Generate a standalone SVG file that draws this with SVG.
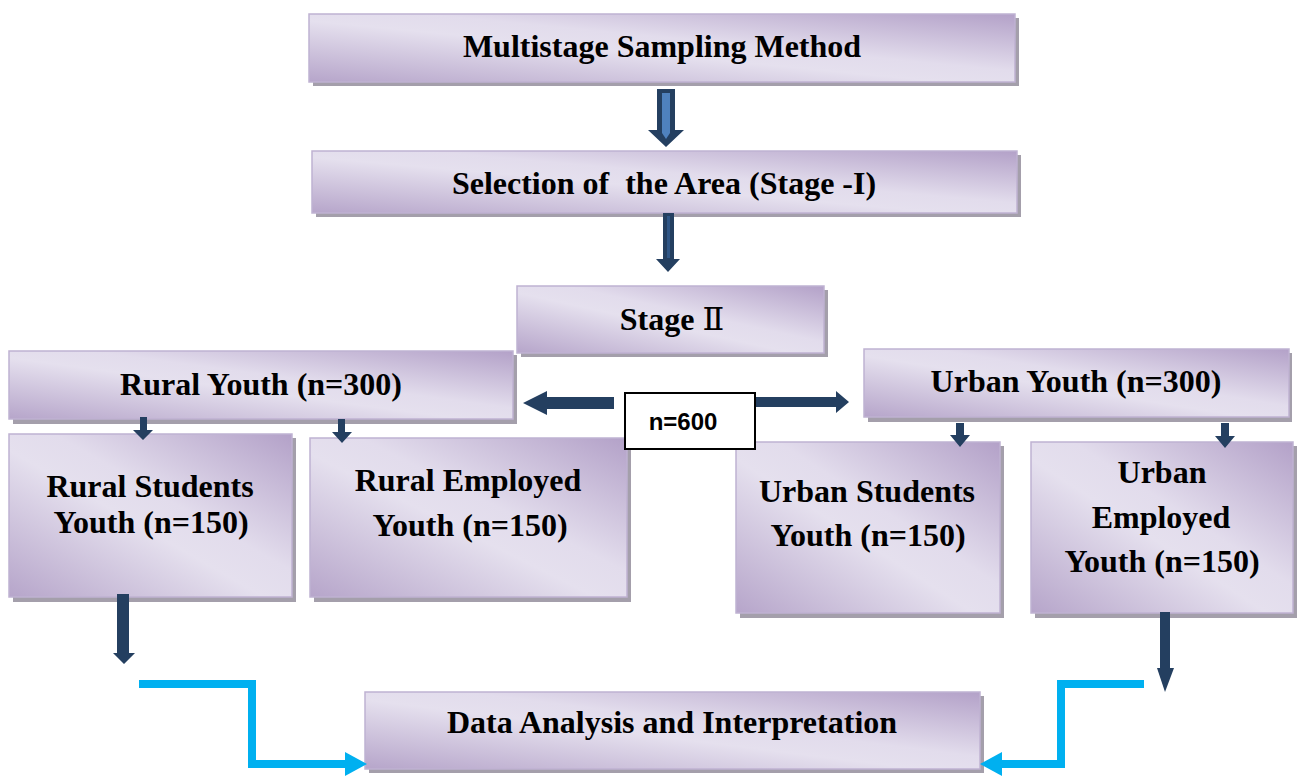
<svg xmlns="http://www.w3.org/2000/svg" width="1299" height="776" viewBox="0 0 1299 776">
<style>
.sh{fill:#a49fab}
.bx{fill:url(#g);stroke:#bfb2d2;stroke-width:1.5}
.t{font-family:"Liberation Serif","Times New Roman",serif;font-weight:bold;font-size:32px;fill:#000;text-anchor:middle;white-space:pre}
.n{font-family:"Liberation Sans",Arial,sans-serif;font-weight:bold;font-size:24px;fill:#000;text-anchor:middle}
.da{fill:#243f60}
.lb{fill:none;stroke:#00b0f0;stroke-width:8;marker-end:url(#ah)}
</style>
<defs>
<linearGradient id="g" x1="0" y1="1" x2="1" y2="0">
<stop offset="0" stop-color="#b6a5ca"/>
<stop offset="0.45" stop-color="#e5e0ee"/>
<stop offset="0.58" stop-color="#e2dcec"/>
<stop offset="1" stop-color="#b3a1c8"/>
</linearGradient>
<marker id="ah" markerUnits="userSpaceOnUse" markerWidth="22" markerHeight="24" refX="0" refY="12" orient="auto">
<path d="M0,0 L22,12 L0,24 Z" fill="#00b0f0"/>
</marker>
</defs>

<g id="n-multistage">
<rect class="sh" x="313" y="18" width="706" height="68"/>
<rect class="bx" x="309" y="14" width="706" height="68"/>
<text class="t" x="662" y="57">Multistage Sampling Method</text>
</g>
<g id="n-selection">
<rect class="sh" x="316" y="155" width="705" height="62"/>
<rect class="bx" x="312" y="151" width="705" height="62"/>
<text class="t" x="664" y="194" xml:space="preserve">Selection of  the Area (Stage -I)</text>
</g>
<g id="n-stage2">
<rect class="sh" x="521" y="290" width="307" height="67"/>
<rect class="bx" x="517" y="286" width="307" height="67"/>
<text class="t" x="672" y="330">Stage <tspan font-weight="normal" font-family="'Liberation Serif','DejaVu Serif',serif">Ⅱ</tspan></text>
</g>
<g id="n-rural">
<rect class="sh" x="13" y="355" width="504" height="69"/>
<rect class="bx" x="9" y="351" width="504" height="68"/>
<text class="t" x="261" y="395">Rural Youth (n=300)</text>
</g>
<g id="n-urban">
<rect class="sh" x="868" y="353" width="424" height="69"/>
<rect class="bx" x="864" y="349" width="425" height="68"/>
<text class="t" x="1076" y="392">Urban Youth (n=300)</text>
</g>
<g id="n-rural-students">
<rect class="sh" x="13" y="438" width="283" height="164"/>
<rect class="bx" x="9" y="434" width="283" height="163"/>
<text class="t" x="150" y="497">Rural Students</text>
<text class="t" x="151" y="533">Youth (n=150)</text>
</g>
<g id="n-rural-employed">
<rect class="sh" x="314" y="442" width="317" height="160"/>
<rect class="bx" x="310" y="438" width="317" height="159"/>
<text class="t" x="468" y="491">Rural Employed</text>
<text class="t" x="470" y="536">Youth (n=150)</text>
</g>
<g id="n-urban-students">
<rect class="sh" x="740" y="446" width="264" height="172"/>
<rect class="bx" x="736" y="442" width="264" height="171"/>
<text class="t" x="867" y="502">Urban Students</text>
<text class="t" x="868" y="546">Youth (n=150)</text>
</g>
<g id="n-urban-employed">
<rect class="sh" x="1035" y="446" width="262" height="172"/>
<rect class="bx" x="1031" y="442" width="262" height="171"/>
<text class="t" x="1162" y="483">Urban</text>
<text class="t" x="1161" y="528">Employed</text>
<text class="t" x="1162" y="572">Youth (n=150)</text>
</g>
<g id="n-data">
<rect class="sh" x="369" y="696" width="615" height="77"/>
<rect class="bx" x="365" y="692" width="615" height="77"/>
<text class="t" x="672" y="733">Data Analysis and Interpretation</text>
</g>

<g id="connectors">
<polygon class="da" points="657,89 675,89 675,130 684,130 666,147 648,130 657,130"/>
<polygon fill="#4f81bd" points="662,93 670,93 670,133 666,139 662,133"/>
<polygon class="da" points="663,213 674,213 674,259 680,259 668,272 656,259 663,259"/>
<polygon fill="#2f5686" points="667,216 670,216 670,258 667,258"/>
<polygon class="da" points="614,397 614,409 547,409 547,415 523,403 547,391 547,397"/>
<polygon class="da" points="755,397 836,397 836,391 849,402 836,413 836,407 755,407"/>
<polygon class="da" points="140,417 147,417 147,430 153,430 143,440 133,430 140,430"/>
<polygon class="da" points="338,419 345,419 345,432 352,432 342,443 332,432 338,432"/>
<polygon class="da" points="956,423 964,423 964,435 970,435 960,447 950,435 956,435"/>
<polygon class="da" points="1221,423 1229,423 1229,436 1235,436 1225,448 1215,436 1221,436"/>
<polygon class="da" points="117,594 129,594 129,653 135,653 124,664 113,653 117,653"/>
<polygon class="da" points="1160,612 1170,612 1170,668 1174,668 1165,692 1157,668 1160,668"/>
<path class="lb" d="M139,684 H252 V764 H345"/>
<path class="lb" d="M1144,684 H1061 V764 H1002"/>
</g>

<g id="n-total">
<rect x="625" y="393" width="130" height="56" fill="#fff" stroke="#000" stroke-width="2"/>
<text class="n" x="683" y="430">n=600</text>
</g>
</svg>
